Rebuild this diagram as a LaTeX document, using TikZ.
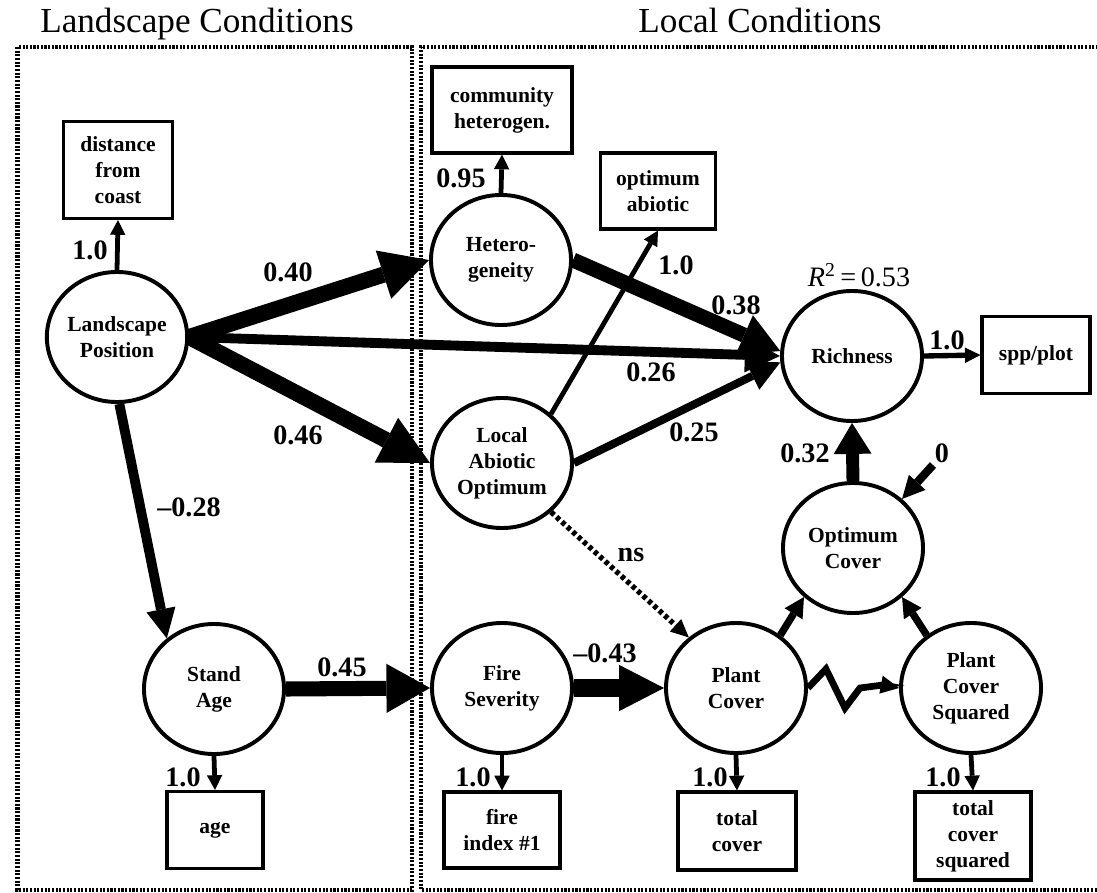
\documentclass[tikz,border=0pt]{standalone}
\usepackage{fontspec}
\setmainfont{Liberation Serif}
\usetikzlibrary{arrows.meta,shapes.geometric}
\begin{document}
\begin{tikzpicture}[x=0.025cm,y=-0.025cm,
  latent/.style={ellipse,draw,line width=2.8pt,minimum width=3.5cm,minimum height=3.25cm,
    inner sep=0pt,align=center,font=\bfseries\fontsize{15.3}{18.5}\selectfont},
  indicator/.style n args={2}{rectangle,draw,line width=2.2pt,minimum width=#1,minimum height=#2,
    inner sep=0pt,align=center,font=\bfseries\fontsize{15.3}{18.5}\selectfont},
  coef/.style={font=\bfseries\fontsize{20}{24}\selectfont,inner sep=0pt},
  heading/.style={font=\fontsize{25}{30}\selectfont,inner sep=0pt,anchor=base},
  region/.style={line width=3pt,dash pattern=on 1.5pt off 1.1pt},
  link/.style n args={3}{line width=#1,-{Triangle[length=#2,width=#3,line width=0pt]}},
  load/.style={link={3.4pt}{10.5pt}{11pt}},
]
\useasboundingbox (0,0) rectangle (1097,893);

% group frames and headings
\draw[region] (17.5,47) rectangle (412,890);
\draw[region] (1120,47) -- (421,47) -- (421,890) -- (1120,890);
\node[heading] (hland) at (197,33) {Landscape Conditions};
\node[heading] (hloc) at (760,33) {Local Conditions};

% latent variables
\node[latent] (lp) at (117,337) {Landscape\\Position};
\node[latent] (het) at (501,260) {Hetero-\\geneity};
\node[latent] (lao) at (502,463) {Local\\Abiotic\\Optimum};
\node[latent] (rich) at (852,356) {Richness};
\node[latent] (oc) at (853,548) {Optimum\\Cover};
\node[latent] (sa) at (214,689) {Stand\\Age};
\node[latent] (fs) at (502,688) {Fire\\Severity};
\node[latent] (pc) at (736,688) {Plant\\Cover};
\node[latent] (pcs) at (971,688) {Plant\\Cover\\Squared};

% measured indicators
\node[indicator={2.725cm}{2.425cm}] (dist) at (118,170) {distance\\from\\coast};
\node[indicator={3.5cm}{2.15cm}] (comm) at (502,110) {community\\heterogen.};
\node[indicator={2.875cm}{1.9cm}] (optab) at (658,191) {optimum\\abiotic};
\node[indicator={2.7cm}{1.925cm}] (spp) at (1036,355) {spp/plot};
\node[indicator={2.4cm}{1.925cm}] (age) at (215,830) {age};
\node[indicator={2.9cm}{1.9cm}] (fire) at (502,830) {fire\\index \#1};
\node[indicator={2.95cm}{1.95cm}] (tc) at (737,831) {total\\cover};
\node[indicator={2.9cm}{2.2cm}] (tcs) at (973,836) {total\\cover\\squared};

% loadings
\draw[load] (lp.north) -- (dist.south);
\draw[load] (het.north) -- (comm.south);
\draw[load] (lao.45) -- (optab.south);
\draw[link={3.8pt}{11pt}{11pt}] (rich.east) -- (spp.west);
\draw[load] (sa.south) -- (age.north);
\draw[load] (fs.south) -- (fire.north);
\draw[load] (pc.south) -- (tc.north);
\draw[load] (pcs.south) -- (tcs.north);

% structural paths
\draw[link={7pt}{25pt}{25pt}] (lp.east) -- (rich.180);
\draw[link={11.4pt}{34pt}{36pt}] (lp.east) -- (het.west);
\draw[link={11.4pt}{35pt}{36pt}] (lp.east) -- (lao.west);
\draw[link={10.7pt}{28pt}{31pt}] (het.east) -- (rich.176);
\draw[link={5.7pt}{22pt}{22pt}] (lao.east) -- (rich.185);
\draw[link={7pt}{21pt}{21pt}] (lp.-88) -- (sa.133);
\draw[link={10.7pt}{31pt}{35pt}] (sa.east) -- (fs.west);
\draw[link={12.8pt}{32pt}{33pt}] (fs.east) -- (pc.west);
\draw[link={3.8pt}{12.8pt}{12pt},dash pattern=on 3pt off 2.2pt] (lao.-45) -- (pc.133);
\draw[link={9.2pt}{22pt}{27pt}] (oc.north) -- (rich.south);
\draw[link={5.2pt}{14pt}{15pt}] (pc.50) -- (oc.225);
\draw[link={5.2pt}{14pt}{15pt}] (pcs.130) -- (oc.-45);
\draw[link={4.8pt}{13pt}{13pt},line join=miter] (pc.east) -- ++(18,-19) -- ++(19,39) -- ++(15,-20) -- ++(23,-3) -- (pcs.west);
\coordinate (err) at (933,465);
\draw[link={5.9pt}{16pt}{16pt}] (err) -- (oc.45);

% coefficients
\node[coef] (c1) at (90,250) {1.0};
\node[coef] (c2) at (461,178) {0.95};
\node[coef] (c3) at (676,265) {1.0};
\node[coef] (c4) at (947,340) {1.0};
\node[coef] (c5) at (183,777) {1.0};
\node[coef] (c6) at (473,777) {1.0};
\node[coef] (c7) at (710,777) {1.0};
\node[coef] (c8) at (943,777) {1.0};
\node[coef] (c9) at (288,272) {0.40};
\node[coef] (c10) at (298,435) {0.46};
\node[coef] (c11) at (651,372) {0.26};
\node[coef] (c12) at (736,305) {0.38};
\node[coef] (c13) at (694,432) {0.25};
\node[coef] (c14) at (189,507) {\textendash0.28};
\node[coef] (c15) at (342,667) {0.45};
\node[coef] (c16) at (605,653) {\textendash0.43};
\node[coef] (c17) at (631,555) {ns};
\node[coef] (c18) at (805,453) {0.32};
\node[coef] (c19) at (942,453) {0};
\node[coef,font=\fontsize{20}{24}\selectfont] (r2) at (859,275) {\textit{R}\textsuperscript{2}\,=\,0.53};
\end{tikzpicture}
\end{document}
